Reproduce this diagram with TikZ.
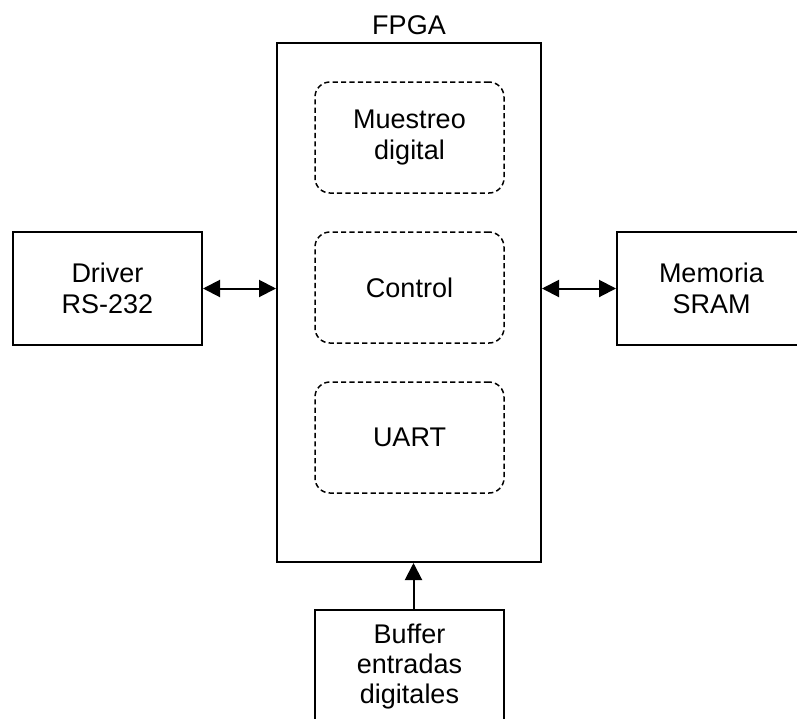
\documentclass[tikz,border=0pt]{standalone}
\usepackage{fontspec}
\setmainfont{Liberation Sans}
\usetikzlibrary{arrows.meta,positioning}
\tikzset{
  blk/.style={draw=black,fill=white,line width=1pt,minimum width=94.5pt,
    minimum height=56.5pt,align=center,inner sep=0pt},
  sub/.style={blk,rounded corners=7.5pt,dash pattern=on 2.6pt off 1.6pt,
    line width=0.75pt,minimum height=55.5pt},
  bus/.style={{Triangle[length=8.5pt,width=8.5pt]}-{Triangle[length=8.5pt,width=8.5pt]},line width=1pt},
  feed/.style={-{Triangle[length=8.5pt,width=8.5pt]},line width=1pt}
}

\begin{document}
\begin{tikzpicture}[x=0.5pt,y=-0.5pt,every node/.style={font=\fontsize{13.5}{15.2}\selectfont}]
  \useasboundingbox (0,0) rectangle (797,718);
  \clip (0,0) rectangle (797,718);
  % main device and its blocks
  \node[blk,minimum width=132pt,minimum height=259.5pt] (fpga) at (409,302.5) {};
  \node (fpgat) at (409,25) {FPGA};
  \node[sub] (mue) at (409.5,137.5) {Muestreo\\digital};
  \node[sub] (ctl) at (409.5,287.5) {Control};
  \node[sub] (uart) at (409.5,437.5) {UART};
  % external blocks
  \node[blk] (drv) at (107.5,288.5) {Driver\\RS-232};
  \node[blk] (mem) at (711.5,288.5) {Memoria\\SRAM};
  \node[blk] (buf) at (409.5,666.5) {Buffer\\entradas\\digitales};
  % links
  \draw[bus] (drv.east) -- (drv.east -| fpga.west);
  \draw[bus] (fpga.east |- mem.west) -- (mem.west);
  \draw[feed] ([xshift=2pt]buf.north) -- ([xshift=2pt]buf.north |- fpga.south);
\end{tikzpicture}
\end{document}
